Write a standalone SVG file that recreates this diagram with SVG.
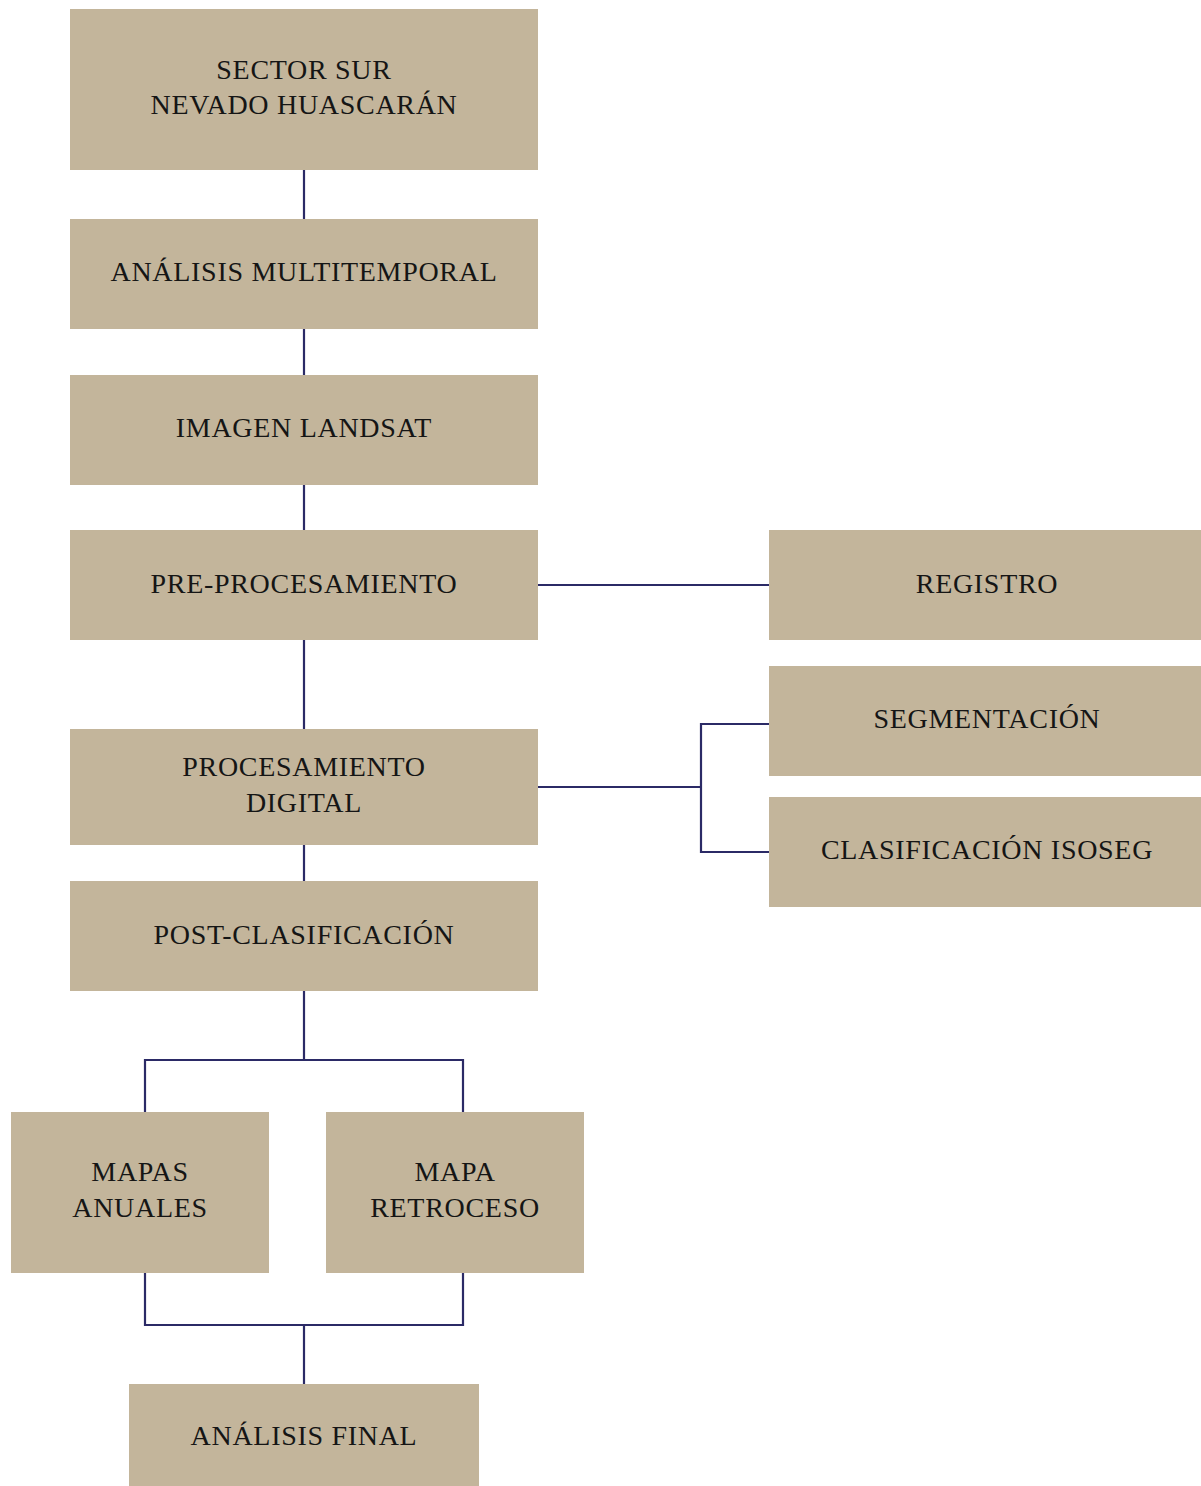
<svg xmlns="http://www.w3.org/2000/svg" width="1201" height="1486" viewBox="0 0 1201 1486">
<style>
.box{fill:#c3b59b}
.t{font-family:"Liberation Serif","Times New Roman",serif;font-size:28px;letter-spacing:0.7px;fill:#151515;text-anchor:middle}
.c{fill:none;stroke:#2b2a66;stroke-width:2.2}
</style>
<rect width="1201" height="1486" fill="#ffffff"/>
<g id="connectors">
<path class="c" d="M304 170V219M304 329V375M304 485V530M304 640V729M304 845V881M304 991V1060M145 1112V1060H463V1112M145 1273V1325H463V1273M304 1325V1384"/>
<path class="c" d="M538 585H769M538 787H701M769 724H701V852H769"/>
</g>
<g id="n1"><rect class="box" x="70" y="9" width="468" height="161"/><text class="t" x="304" y="79">SECTOR SUR</text><text class="t" x="304" y="114">NEVADO HUASCARÁN</text></g>
<g id="n2"><rect class="box" x="70" y="219" width="468" height="110"/><text class="t" x="304" y="281">ANÁLISIS MULTITEMPORAL</text></g>
<g id="n3"><rect class="box" x="70" y="375" width="468" height="110"/><text class="t" x="304" y="437">IMAGEN LANDSAT</text></g>
<g id="n4"><rect class="box" x="70" y="530" width="468" height="110"/><text class="t" x="304" y="593">PRE-PROCESAMIENTO</text></g>
<g id="n5"><rect class="box" x="70" y="729" width="468" height="116"/><text class="t" x="304" y="776">PROCESAMIENTO</text><text class="t" x="304" y="812">DIGITAL</text></g>
<g id="n6"><rect class="box" x="70" y="881" width="468" height="110"/><text class="t" x="304" y="944">POST-CLASIFICACIÓN</text></g>
<g id="n7"><rect class="box" x="769" y="530" width="432" height="110"/><text class="t" x="987" y="593">REGISTRO</text></g>
<g id="n8"><rect class="box" x="769" y="666" width="432" height="110"/><text class="t" x="987" y="728">SEGMENTACIÓN</text></g>
<g id="n9"><rect class="box" x="769" y="797" width="432" height="110"/><text class="t" x="987" y="859">CLASIFICACIÓN ISOSEG</text></g>
<g id="n10"><rect class="box" x="11" y="1112" width="258" height="161"/><text class="t" x="140" y="1181">MAPAS</text><text class="t" x="140" y="1217">ANUALES</text></g>
<g id="n11"><rect class="box" x="326" y="1112" width="258" height="161"/><text class="t" x="455" y="1181">MAPA</text><text class="t" x="455" y="1217">RETROCESO</text></g>
<g id="n12"><rect class="box" x="129" y="1384" width="350" height="102"/><text class="t" x="304" y="1445">ANÁLISIS FINAL</text></g>
</svg>
